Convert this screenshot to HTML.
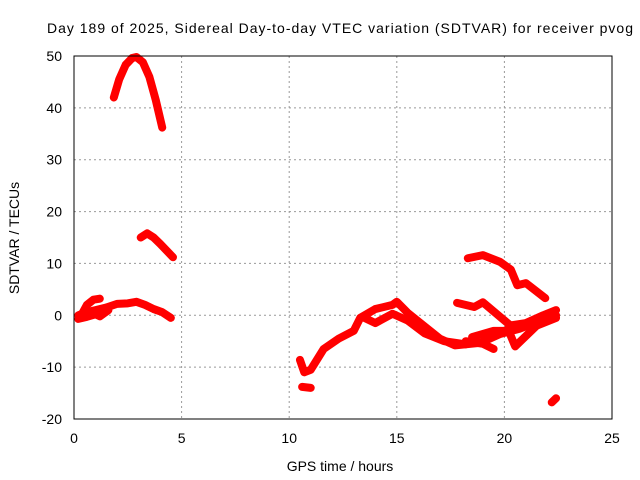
<!DOCTYPE html>
<html><head><meta charset="utf-8"><style>body{margin:0;background:#fff}svg{display:block;font-family:"Liberation Sans",sans-serif}</style></head>
<body>
<svg id="c" width="640" height="480"></svg>
<script>
const xTicks=[0,5,10,15,20,25];
const yTicks=[-20,-10,0,10,20,30,40,50];
const segArc=[[1.85,42],[2.1,45.5],[2.4,48.3],[2.7,49.6],[2.9,49.8],[3.2,48.8],[3.5,46],[3.8,41.5],[4.1,36.2]];
const segMid=[[3.1,15],[3.4,15.8],[3.7,15],[4.0,13.8],[4.3,12.5],[4.6,11.2]];
const segLow1=[[0.2,0],[0.5,0.5],[1,1],[1.5,1.5],[2,2.2],[2.5,2.3],[2.9,2.6],[3.3,2],[3.7,1.2],[4.1,0.6],[4.5,-0.5]];
const segLow2=[[0.2,-0.7],[0.6,-0.3],[1,0.2],[1.2,-0.2],[1.6,1]];
const segLow3=[[0.3,-0.3],[0.6,2],[0.9,3],[1.2,3.2]];
const segD=[[10.5,-8.6],[10.7,-11],[11.0,-10.5],[11.6,-6.5],[12.3,-4.5],[13.0,-3],[13.3,-0.5],[14.0,1.2],[14.8,2],[15.0,2.6],[15.5,0.5],[16.1,-1.5],[17.0,-4.5],[17.7,-5.8],[18.9,-5.3],[19.8,-3.6],[20.7,-2.6],[21.7,-1],[22.4,0]];
const segD2=[[13.5,-0.5],[14.0,-1.5],[14.8,0.3],[15.5,-1],[16.3,-3.5],[17.2,-5],[18.2,-5.6]];
const segD3=[[18.2,-5],[19.0,-5.5],[19.5,-6.5]];
const segD4=[[18.5,-4.2],[19.5,-3],[20.2,-3],[20.5,-6],[21,-4],[21.5,-2],[22.4,-0.5]];
const segD5=[[20.2,-2],[21,-1.5],[21.8,0],[22.4,1]];
const segE=[[18.3,11],[19.0,11.6],[19.8,10.3],[20.3,8.8],[20.6,5.8],[21.0,6.2],[21.9,3.3]];
const segF=[[17.8,2.4],[18.6,1.6],[19.0,2.5],[19.8,-0.3],[20.35,-2.2]];
const segG=[[10.6,-13.8],[11.0,-14]];
const segH=[[22.2,-16.8],[22.4,-16]];
const series=[segArc,segMid,segLow1,segLow2,segLow3,segD,segD2,segD3,segD4,segD5,segE,segF,segG,segH];
const X=h=>74+(612-74)*h/25, Y=v=>56+(419-56)*(50-v)/70;
const svg=document.getElementById('c');let s='';
for(const t of xTicks){if(t>0&&t<25)s+=`<line x1="${X(t)}" y1="56" x2="${X(t)}" y2="419" stroke="#999" stroke-dasharray="2,3"/>`;
s+=`<text x="${X(t)}" y="443" text-anchor="middle" font-size="14">${t}</text>`;}
for(const t of yTicks){if(t>-20&&t<50)s+=`<line x1="74" y1="${Y(t)}" x2="612" y2="${Y(t)}" stroke="#999" stroke-dasharray="2,3"/>`;
s+=`<text x="62" y="${Y(t)+5}" text-anchor="end" font-size="14">${t}</text>`;}
for(const seg of series){s+=`<polyline points="${seg.map(p=>X(p[0])+','+Y(p[1])).join(' ')}" fill="none" stroke="#f00" stroke-width="8" stroke-linejoin="round" stroke-linecap="round"/>`;}
s+=`<rect x="74" y="56" width="538" height="363" fill="none" stroke="#000"/>`;
s+=`<text x="47" y="33" textLength="586" lengthAdjust="spacing" font-size="14">Day 189 of 2025, Sidereal Day-to-day VTEC variation (SDTVAR) for receiver pvog</text>`;
s+=`<text x="340" y="471" text-anchor="middle" font-size="14">GPS time / hours</text>`;
s+=`<text transform="translate(19,238) rotate(-90)" text-anchor="middle" font-size="14">SDTVAR / TECUs</text>`;
svg.innerHTML=s;
</script>
</body></html>
